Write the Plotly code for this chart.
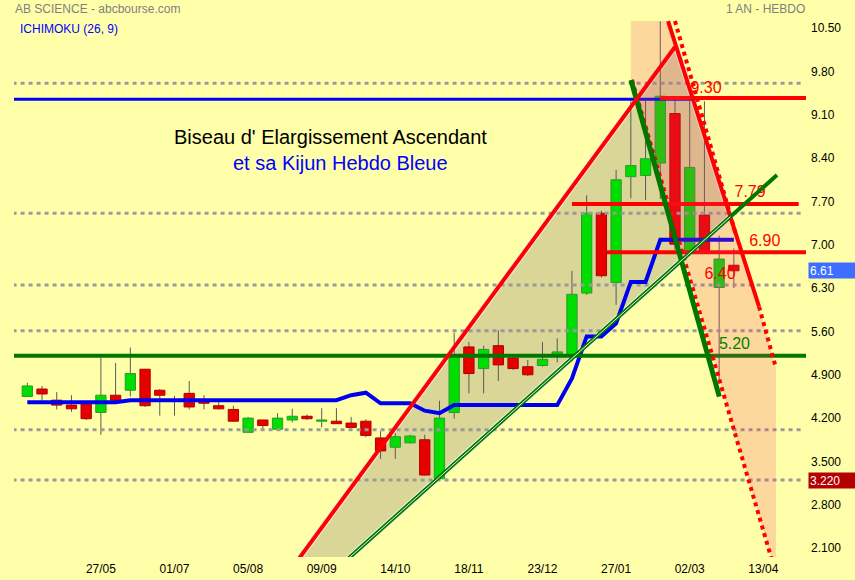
import plotly.graph_objects as go

# ---------------- data ----------------
week_index = list(range(49))
opens = [4.58, 4.70, 4.52, 4.44, 4.47, 4.32, 4.60, 4.68, 5.02, 4.68,
         4.52, 4.63, 4.51, 4.43, 4.37, 4.00, 4.20, 4.05, 4.20, 4.26,
         4.18, 4.18, 4.15, 4.18, 3.91, 3.76, 3.83, 3.88, 3.25, 4.32,
         5.38, 5.03, 5.40, 5.20, 5.06, 5.08, 5.26, 5.24, 6.25, 7.54,
         6.42, 8.13, 8.15, 8.35, 9.15, 6.92, 7.51, 6.34, 6.70]
highs = [4.80, 4.75, 4.65, 4.60, 4.47, 5.21, 5.12, 5.37, 5.02, 4.70,
         4.59, 4.83, 4.60, 4.50, 4.43, 4.25, 4.20, 4.31, 4.38, 4.29,
         4.39, 4.39, 4.25, 4.21, 4.02, 3.99, 3.96, 3.96, 4.51, 5.61,
         5.46, 5.40, 5.65, 5.22, 5.17, 5.46, 5.52, 6.61, 7.83, 7.58,
         8.24, 9.35, 9.36, 10.64, 9.37, 9.37, 9.35, 7.18, 6.97]
lows = [4.57, 4.51, 4.37, 4.33, 4.20, 3.96, 4.49, 4.58, 4.41, 4.27,
        4.27, 4.37, 4.37, 4.37, 4.18, 4.00, 4.06, 4.04, 4.16, 4.20,
        4.08, 4.14, 4.06, 3.92, 3.57, 3.57, 3.82, 3.30, 3.22, 4.22,
        4.63, 4.63, 4.83, 5.01, 4.91, 5.06, 5.13, 5.15, 6.22, 6.50,
        6.06, 7.78, 7.75, 7.77, 6.95, 6.90, 6.90, 4.79, 6.33]
closes = [4.75, 4.62, 4.44, 4.38, 4.22, 4.60, 4.52, 4.95, 4.43, 4.60,
          4.51, 4.41, 4.47, 4.38, 4.18, 4.23, 4.11, 4.23, 4.26, 4.22,
          4.20, 4.14, 4.08, 3.95, 3.70, 3.93, 3.94, 3.31, 4.23, 5.22,
          4.95, 5.34, 5.09, 5.03, 4.93, 5.18, 5.30, 6.23, 7.54, 6.53,
          8.08, 8.31, 8.42, 9.43, 7.04, 8.28, 6.92, 6.80, 6.61]
kijun = [4.485, 4.485, 4.485, 4.485, 4.485, 4.485, 4.485, 4.52, 4.52, 4.52,
         4.52, 4.52, 4.52, 4.52, 4.52, 4.52, 4.52, 4.52, 4.52, 4.52,
         4.52, 4.52, 4.60, 4.64, 4.47, 4.47, 4.47, 4.35, 4.31, 4.44,
         4.44, 4.44, 4.44, 4.44, 4.44, 4.44, 4.44, 4.87, 5.55, 5.55,
         5.76, 6.43, 6.43, 7.11, 7.11, 7.11, 7.11, 7.11, 7.11]

tick_positions = [5, 10, 15, 20, 25, 30, 35, 40, 45, 50]
tick_labels = ["27/05", "01/07", "05/08", "09/09", "14/10", "18/11",
               "23/12", "27/01", "02/03", "13/04"]
price_ticks = [10.5, 9.8, 9.1, 8.4, 7.7, 7.0, 6.3, 5.6, 4.9, 4.2, 3.5, 2.8, 2.1]
price_tick_labels = ["10.50", "9.80", "9.10", "8.40", "7.70", "7.00", "6.30",
                     "5.60", "4.900", "4.200", "3.500", "2.800", "2.100"]

# drawn trend lines (week index, price)
red_rise_x, red_rise_y = [17.96, 44.0], [1.80, 10.225]
red_fall_x, red_fall_y = [43.53, 49.71], [10.645, 6.03]
red_fall_ext_x, red_fall_ext_y = [49.71, 50.86], [6.03, 5.04]
red_fall_dot_x, red_fall_dot_y = [44.0, 48.14], [10.645, 7.19]
green_fall_x, green_fall_y = [41.01, 47.01], [9.692, 4.576]
red_channel_x, red_channel_y = [41.08, 50.75], [9.692, 1.80]
green_rise_x, green_rise_y = [21.05, 50.93], [1.80, 8.157]

orange_left, orange_right, orange_top, orange_bottom = 41.0, 50.86, 10.645, 1.80

# horizontal levels
gray_levels = [9.64, 7.54, 6.38, 5.64, 4.04, 3.23]
gray_span = [-1.0, 52.6]
blue_level, blue_span = 9.38, [-1.0, 45.2]
green_level, green_span = 5.238, [-1.0, 53.5]
red_levels = [9.40, 7.69, 6.91]
red_spans = [[43.0, 53.5], [37.0, 52.4], [39.36, 53.5]]

line_labels = ["9.30", "7.79", "6.90", "6.40", "5.20"]
label_x = [46.11, 49.1, 50.1, 47.06, 48.04]
label_y = [9.547, 7.859, 7.083, 6.542, 5.411]
label_colors = ["#FF0000", "#FF0000", "#FF0000", "#FF0000", "#008000"]

last_price, low_mark = 6.61, 3.220

FONT = "Liberation Sans, Arial, sans-serif"
BG = "#FFFFAA"
BODY_W = 0.35


def intersect(ax, ay, bx, by):
    x1, x2, y1, y2 = ax[0], ax[1], ay[0], ay[1]
    x3, x4, y3, y4 = bx[0], bx[1], by[0], by[1]
    d = (x1 - x2) * (y3 - y4) - (y1 - y2) * (x3 - x4)
    t = ((x1 - x3) * (y3 - y4) - (y1 - y3) * (x3 - x4)) / d
    return x1 + t * (x2 - x1), y1 + t * (y2 - y1)


def seg(x, y, color, width, dash=None):
    return go.Scatter(x=x, y=y, mode="lines",
                      line=dict(color=color, width=width, dash=dash),
                      hoverinfo="skip", showlegend=False)


apex = intersect(red_rise_x, red_rise_y, red_fall_x, red_fall_y)
right_v = intersect(red_fall_x, red_fall_y, green_rise_x, green_rise_y)

fig = go.Figure()

# wedge fill (opaque khaki) with light edge
wx = [red_rise_x[0], apex[0], right_v[0], green_rise_x[0], red_rise_x[0]]
wy = [red_rise_y[0], apex[1], right_v[1], green_rise_y[0], red_rise_y[0]]
fig.add_trace(go.Scatter(x=wx, y=wy, mode="lines", fill="toself",
                         fillcolor="#D9D698", line=dict(color="#F4F2DC", width=6),
                         hoverinfo="skip", showlegend=False))

# wicks
wick_x, wick_y = [], []
for i, h, l in zip(week_index, highs, lows):
    wick_x += [i, i, None]
    wick_y += [l, h, None]
fig.add_trace(seg(wick_x, wick_y, "#5A5A5A", 1))

# bodies (as filled rectangles so they sit above wicks and the wedge)
for up, fcol, ecol in [(True, "#00DD00", "#2E9A2E"), (False, "#E60000", "#B00000")]:
    bx, by = [], []
    for i, o, c in zip(week_index, opens, closes):
        if (c >= o) != up:
            continue
        lo, hi = min(o, c), max(o, c)
        if hi - lo < 0.012:
            hi = lo + 0.012
        bx += [i - BODY_W, i + BODY_W, i + BODY_W, i - BODY_W, i - BODY_W, None]
        by += [lo, lo, hi, hi, lo, None]
    fig.add_trace(go.Scatter(x=bx, y=by, mode="lines", fill="toself", fillcolor=fcol,
                             line=dict(color=ecol, width=1),
                             hoverinfo="skip", showlegend=False))

# gray dashed levels
gx, gy = [], []
for lv in gray_levels:
    gx += [gray_span[0], gray_span[1], None]
    gy += [lv, lv, None]
fig.add_trace(seg(gx, gy, "#9A9A9A", 3, "4px,4px"))

# kijun
fig.add_trace(seg(week_index, kijun, "#0000F0", 4))

# horizontal lines
fig.add_trace(seg(blue_span, [blue_level, blue_level], "#0000FF", 3))
fig.add_trace(seg(green_span, [green_level, green_level], "#007800", 4))
for lv, sp in zip(red_levels, red_spans):
    fig.add_trace(seg(sp, [lv, lv], "#FF0000", 4))

# orange translucent zone
ox = [orange_left, red_fall_x[0], red_fall_x[1], red_fall_ext_x[1], orange_right,
      orange_right, red_channel_x[1], red_channel_x[0], orange_left, orange_left]
oy = [orange_top, red_fall_y[0], red_fall_y[1], red_fall_ext_y[1], red_fall_ext_y[1],
      orange_bottom, red_channel_y[1], red_channel_y[0], red_channel_y[0], orange_top]
fig.add_trace(go.Scatter(x=ox, y=oy, mode="lines", fill="toself",
                         fillcolor="rgba(245,60,100,0.2)", line=dict(width=0),
                         hoverinfo="skip", showlegend=False))

# level labels
fig.add_trace(go.Scatter(x=label_x, y=label_y, mode="text", text=line_labels,
                         textposition="middle center",
                         textfont=dict(family=FONT, size=16, color=label_colors),
                         hoverinfo="skip", showlegend=False))

# trend lines
fig.add_trace(seg(red_channel_x, red_channel_y, "#FF0000", 4, "dot"))
fig.add_trace(seg(green_fall_x, green_fall_y, "#007800", 5))
fig.add_trace(seg(red_fall_dot_x, red_fall_dot_y, "#FF0000", 4, "dot"))
fig.add_trace(seg(red_fall_ext_x, red_fall_ext_y, "#FF0000", 4, "dot"))
fig.add_trace(seg(red_rise_x, red_rise_y, "#FF0000", 4))
fig.add_trace(seg(red_fall_x, red_fall_y, "#FF0000", 4))
fig.add_trace(seg(green_rise_x, green_rise_y, "#007800", 4))
fig.add_trace(seg([green_rise_x[0], right_v[0]], [green_rise_y[0], right_v[1]], "#EEF2E0", 1))

# figure fills the whole window (page body margin removed below)
W, H = 855, 580
PLOT_L, PLOT_R, PLOT_T, PLOT_B = 14, 806, 0, 557
L, R, T, B = PLOT_L, W - PLOT_R, PLOT_T, H - PLOT_B
PW, PH = PLOT_R - PLOT_L, PLOT_B - PLOT_T


def px(xp):
    return (xp - PLOT_L) / PW


def py(yp):
    return 1 - (yp - PLOT_T) / PH


annotations = [
    dict(text="AB SCIENCE - abcbourse.com", x=px(13), y=py(9.5), xanchor="left",
         font=dict(size=12, color="#808080")),
    dict(text="ICHIMOKU (26, 9)", x=px(18), y=py(29.5), xanchor="left",
         font=dict(size=12, color="#0000FF")),
    dict(text="1 AN - HEBDO", x=px(807), y=py(9.5), xanchor="right",
         font=dict(size=12, color="#808080")),
    dict(text="Biseau d' Elargissement Ascendant", x=px(330.5), y=py(137.5),
         xanchor="center", font=dict(size=20, color="#000000")),
    dict(text="et sa Kijun Hebdo Bleue", x=px(340), y=py(163),
         xanchor="center", font=dict(size=20, color="#0000FF")),
]
for a in annotations:
    a.update(xref="paper", yref="paper", yanchor="middle", showarrow=False)
    a["font"]["family"] = FONT

for val, txt, col in [(last_price, "6.61", "#3D6EFF"), (low_mark, "3.220", "#B40000")]:
    annotations.append(dict(xref="paper", yref="y", x=1, y=val, xshift=2,
                            xanchor="left", yanchor="middle", text=txt,
                            showarrow=False, bgcolor=col, width=46, height=13,
                            align="left", borderpad=1,
                            font=dict(family=FONT, size=12, color="#FFFFFF")))

# price at a pixel row in the reference (61.9 px per unit, 10.5 at y=30)
y_top = 10.5 - (PLOT_T - 30) / 61.9
y_bot = 10.5 - (PLOT_B - 30) / 61.9

fig.update_layout(
    template="none",
    width=W, height=H,
    margin=dict(l=L, r=R, t=T, b=B, pad=0),
    paper_bgcolor=BG, plot_bgcolor=BG,
    showlegend=False, hovermode=False,
    font=dict(family=FONT, size=12, color="#000000"),
    annotations=annotations,
    xaxis=dict(range=[-0.9035, 52.90], tickvals=tick_positions, ticktext=tick_labels,
               showgrid=False, zeroline=False, showline=False, ticks="",
               ticklabelstandoff=3,
               tickfont=dict(size=12, color="#000000"), fixedrange=True),
    yaxis=dict(range=[y_bot, y_top], side="right", tickvals=price_ticks,
               ticktext=price_tick_labels, showgrid=False, zeroline=False,
               showline=False, ticks="", ticklabelshift=-2, ticklabelstandoff=4,
               tickfont=dict(size=12, color="#000000"), fixedrange=True),
)

fig.write_html("out.html",
               config={"displayModeBar": False, "staticPlot": True},
               post_script="document.body.style.margin='0px';"
                           "document.body.style.background='" + BG + "';")
